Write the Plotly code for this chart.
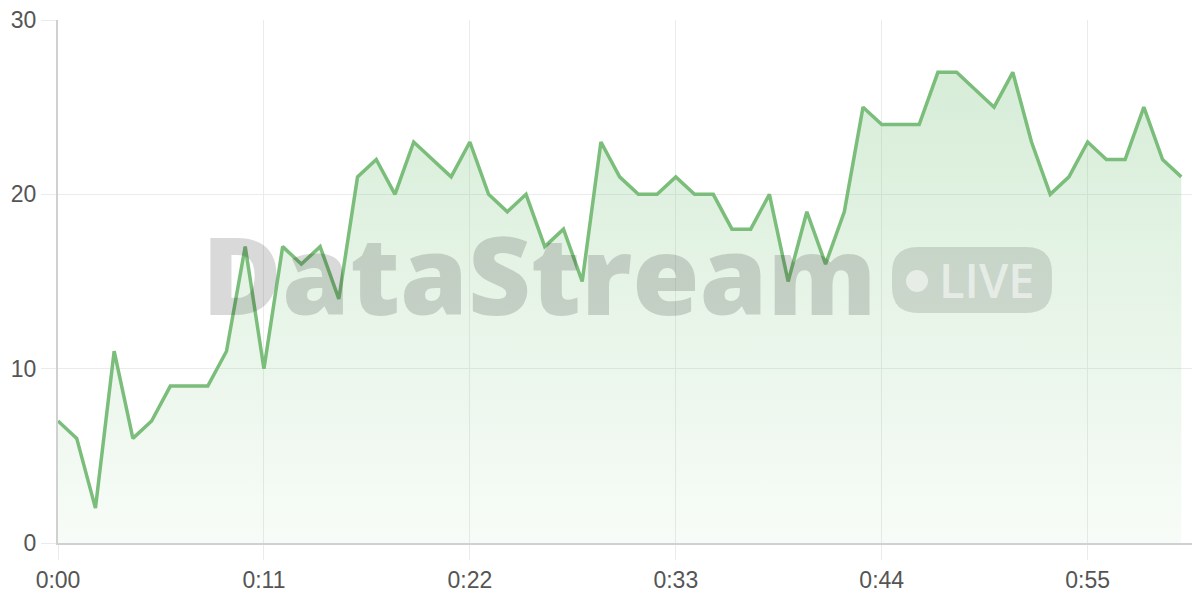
import plotly.graph_objects as go

seconds = list(range(61))
values = [7, 6, 2, 11, 6, 7, 9, 9, 9, 11,
          17, 10, 17, 16, 17, 14, 21, 22, 20, 23,
          22, 21, 23, 20, 19, 20, 17, 18, 15, 23,
          21, 20, 20, 21, 20, 20, 18, 18, 20, 15,
          19, 16, 19, 25, 24, 24, 24, 27, 27, 26,
          25, 27, 23, 20, 21, 23, 22, 22, 25, 22, 21]
x_tick_vals = [0, 11, 22, 33, 44, 55]
x_tick_text = ["0:00", "0:11", "0:22", "0:33", "0:44", "0:55"]
y_tick_vals = [0, 10, 20, 30]

OFF = 8  # page body margin
W, H = 1200 - OFF, 600 - OFF
L, R, T, B = 58 - OFF, 0, 20 - OFF, 57
PW, PH = W - L - R, H - T - B


def px(x):
    return (x - OFF - L) / PW


def py(y):
    return (H - B - (y - OFF)) / PH


fig = go.Figure()
fig.add_trace(go.Scatter(
    x=seconds, y=values, mode="lines",
    line=dict(color="#7bbd7a", width=3.5),
    fill="tozeroy",
    fillgradient=dict(type="vertical",
                      colorscale=[[0, "rgba(129,199,132,0.06)"],
                                  [1, "rgba(129,199,132,0.32)"]]),
    hoverinfo="skip", showlegend=False,
))

# rounded badge path
x0, x1, y0, y1, r = 892, 1052, 247, 313, 26
pts = [
    ("M", (x0 + r, y0)), ("L", (x1 - r, y0)), ("Q", (x1, y0), (x1, y0 + r)),
    ("L", (x1, y1 - r)), ("Q", (x1, y1), (x1 - r, y1)), ("L", (x0 + r, y1)),
    ("Q", (x0, y1), (x0, y1 - r)), ("L", (x0, y0 + r)), ("Q", (x0, y0), (x0 + r, y0)),
]
path = ""
for p in pts:
    cmd = p[0]
    coords = " ".join(f"{px(a):.5f},{py(b):.5f}" for a, b in p[1:])
    path += f"{cmd} {coords} "
path += "Z"

fig.add_shape(type="path", path=path, xref="paper", yref="paper",
              fillcolor="rgba(0,0,0,0.12)", line=dict(width=0), layer="above")
cx, cy, cr = 917, 281, 11
fig.add_shape(type="circle", xref="paper", yref="paper",
              x0=px(cx - cr), x1=px(cx + cr), y0=py(cy + cr), y1=py(cy - cr),
              fillcolor="rgba(255,255,255,0.55)", line=dict(width=0), layer="above")

fig.add_annotation(text="DataStream", xref="paper", yref="paper",
                   x=px(539), y=py(272), xanchor="center", yanchor="middle",
                   showarrow=False,
                   font=dict(family="Open Sans", size=109, weight=800,
                             color="rgba(0,0,0,0.15)"))
fig.add_annotation(text="LIVE", xref="paper", yref="paper",
                   x=px(986), y=py(280), xanchor="center", yanchor="middle",
                   showarrow=False,
                   font=dict(family="Open Sans", size=47, weight=600,
                             color="rgba(255,255,255,0.55)"))

axis_font = dict(family="Liberation Sans, Arial, sans-serif", size=23, color="#555555")
fig.update_layout(
    width=W, height=H,
    margin=dict(l=L, r=R, t=T, b=B, autoexpand=False),
    paper_bgcolor="white", plot_bgcolor="white",
    xaxis=dict(range=[0, 61], tickvals=x_tick_vals, ticktext=x_tick_text,
               showgrid=True, gridcolor="#ebebeb", gridwidth=1,
               showline=True, linecolor="#d0d0d0", linewidth=2,
               ticks="outside", ticklen=15, tickcolor="#ebebeb",
               tickfont=axis_font, zeroline=False, automargin=False,
               ticklabeloverflow="allow"),
    yaxis=dict(range=[0, 30], tickvals=y_tick_vals,
               showgrid=True, gridcolor="#ebebeb", gridwidth=1,
               showline=True, linecolor="#d0d0d0", linewidth=2,
               ticks="outside", ticklen=15, tickcolor="#ebebeb",
               tickfont=axis_font, zeroline=False, automargin=False,
               ticklabeloverflow="allow"),
)

fig.write_html("out.html")
